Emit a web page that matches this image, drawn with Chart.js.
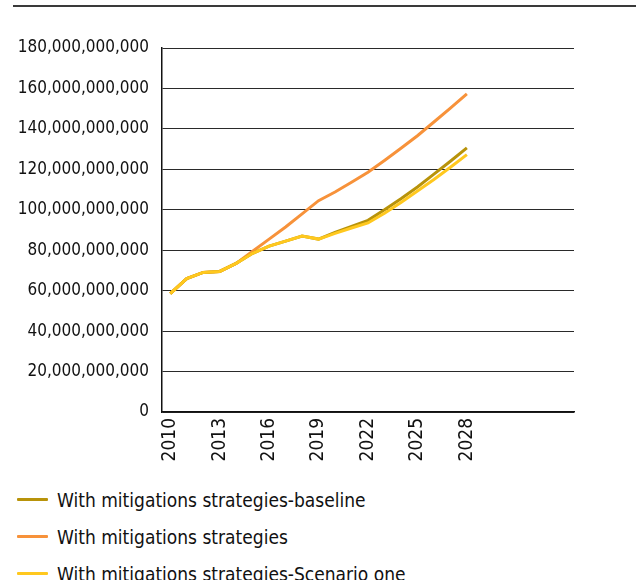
<!DOCTYPE html>
<html>
<head>
<meta charset="utf-8">
<script src="https://cdn.jsdelivr.net/npm/chart.js@4"></script>
<style>
  html, body { margin: 0; padding: 0; background: #fff; }
  body { width: 636px; height: 580px; position: relative; overflow: hidden;
         font-family: "Liberation Sans Narrow", "DejaVu Sans Condensed", sans-serif; color: #111; }
  #top-rule { position: absolute; left: 13px; top: 5px; width: 623px; height: 2px; background: #3a3a3a; }
  #chart-wrap { position: absolute; left: 0; top: 0; width: 636px; height: 470px; }
  #legend { position: absolute; left: 17px; top: 481px; }
  .legend-item { display: flex; align-items: center; height: 37px; font-size: 19px; }
  .legend-line { width: 31px; height: 3px; margin-right: 9px; border-radius: 1px; }
</style>
</head>
<body>
<div id="top-rule"></div>
<div id="chart-wrap"><canvas id="chart" width="636" height="470"></canvas></div>
<div id="legend"></div>

<script>
// ───────────────────────── DATA ─────────────────────────
// 25 category slots, only 2010-2028 carry values / labels
const years = ["2010","2011","2012","2013","2014","2015","2016","2017","2018","2019",
               "2020","2021","2022","2023","2024","2025","2026","2027","2028",
               "","","","","",""];

const seriesNames = [
    "With mitigations strategies-baseline",
    "With mitigations strategies",
    "With mitigations strategies-Scenario one"
];
const seriesColors = ["#b8930a", "#f7923a", "#ffc81e"];

// values in billions, scaled ×1e9 below
const baselineB = [58.5, 66.0, 69.0, 69.5, 73.5, 78.5, 82.0, 84.5, 87.0, 85.5,
                   88.8, 91.8, 94.8, 100.0, 105.5, 111.3, 117.6, 124.0, 130.6];
const mitigationB = [58.5, 66.0, 69.0, 69.5, 73.5, 79.5, 85.5, 91.5, 98.0, 104.5,
                     108.8, 113.6, 118.6, 124.4, 130.4, 136.6, 143.4, 150.3, 157.3];
const scenarioOneB = [58.5, 66.0, 69.0, 69.5, 73.5, 78.5, 82.0, 84.5, 87.0, 85.5,
                      88.3, 91.0, 93.5, 98.3, 103.6, 109.3, 115.0, 121.0, 127.3];

const yTicks = { min: 0, max: 180e9, step: 20e9 };

const FONT = "'Liberation Sans Narrow', 'DejaVu Sans Condensed', sans-serif";

// ───────────────────────── CHART ─────────────────────────
const toUnits = arr => arr.map(v => v * 1e9);
const seriesData = [toUnits(baselineB), toUnits(mitigationB), toUnits(scenarioOneB)];
const drawOrder  = [1, 2, 0];   // yellow on top, orange underneath

const chart = new Chart(document.getElementById("chart").getContext("2d"), {
    type: "line",
    data: {
        labels: years,
        datasets: seriesNames.map((name, i) => ({
            label:       name,
            data:        seriesData[i],
            borderColor: seriesColors[i],
            backgroundColor: seriesColors[i],
            borderWidth: 3,
            pointRadius: 0,
            tension:     0,
            fill:        false,
            order:       drawOrder[i]
        }))
    },
    options: {
        responsive: false,
        animation:  false,
        layout: { padding: { left: 0, right: 62, top: 48, bottom: 0 } },
        scales: {
            x: {
                offset: true,
                grid:   { display: false, drawTicks: false },
                border: { display: true, color: "#111", width: 1.5 },
                ticks: {
                    autoSkip: false,
                    minRotation: 90, maxRotation: 90,
                    padding: 6,
                    color: "#111",
                    font: { family: FONT, size: 19 },
                    callback: function (val, idx) { return idx % 3 === 0 ? years[idx] : ""; }
                },
                afterFit: scale => { scale.height = 58; }
            },
            y: {
                min: yTicks.min, max: yTicks.max,
                grid:   { color: "#2a2a2a", lineWidth: 1, drawTicks: false },
                border: { display: true, color: "#111", width: 1.5 },
                ticks: {
                    stepSize: yTicks.step,
                    padding: 13,
                    color: "#111",
                    font: { family: FONT, size: 17 },
                    callback: v => v.toLocaleString("en-US")
                },
                afterFit: scale => { scale.width = 162; }
            }
        },
        plugins: {
            legend:  { display: false },
            tooltip: { enabled: false }
        }
    }
});

// ───────────────────────── HTML LEGEND ─────────────────────────
const legendBox = document.getElementById("legend");
seriesNames.forEach((name, i) => {
    const item = document.createElement("div");
    item.className = "legend-item";
    item.innerHTML = `<span class="legend-line" style="background:${seriesColors[i]}"></span><span>${name}</span>`;
    legendBox.appendChild(item);
});
</script>
</body>
</html>
